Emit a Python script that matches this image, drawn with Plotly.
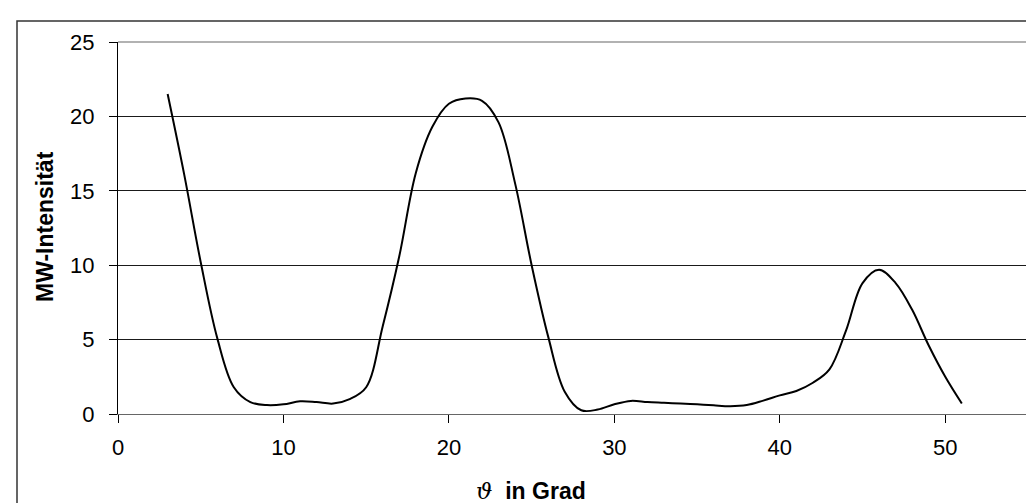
import plotly.graph_objects as go

# Data
theta_deg = list(range(3, 52))
mw_intensity = [
    21.5, 16.1, 10.2, 5.1, 1.8, 0.8, 0.6, 0.65, 0.85, 0.8,   # 3..12
    0.7, 1.0, 1.8, 5.9, 10.6, 16.2, 19.3, 20.85, 21.2, 21.05,  # 13..22
    19.6, 15.5, 10.0, 5.2, 1.5, 0.25, 0.3, 0.65, 0.88, 0.8,   # 23..32
    0.75, 0.7, 0.65, 0.58, 0.52, 0.6, 0.9, 1.25, 1.55, 2.1,   # 33..42
    3.0, 5.6, 8.8, 9.7, 8.8, 7.0, 4.6, 2.5, 0.7               # 43..51
]
x_ticks = [0, 10, 20, 30, 40, 50]
y_ticks = [0, 5, 10, 15, 20, 25]

W, H = 1034, 503
L, R, T, B = 110, 14, 34, 97
pw, ph = W - L - R, H - T - B

def px_x(px):
    return (px - L) / pw

def px_y(py):
    return (H - B - py) / ph

fig = go.Figure()
fig.add_trace(go.Scatter(
    x=theta_deg, y=mw_intensity, mode="lines",
    line=dict(color="black", width=2, shape="spline", smoothing=1.0),
    showlegend=False, hoverinfo="skip",
))

tickfont = dict(family="Liberation Sans, Arial, sans-serif", size=22, color="black")

fig.update_layout(
    width=W, height=H,
    margin=dict(l=L, r=R, t=T, b=B),
    paper_bgcolor="white", plot_bgcolor="white",
    xaxis=dict(
        range=[0, 55], tickvals=x_ticks, ticktext=[str(v) for v in x_ticks],
        showgrid=False, zeroline=False,
        showline=True, linecolor="#666666", linewidth=1,
        ticks="outside", ticklen=8, tickcolor="black", tickwidth=1,
        tickfont=tickfont, ticklabelstandoff=6,
    ),
    yaxis=dict(
        range=[0, 25], tickvals=y_ticks, ticktext=[str(v) for v in y_ticks],
        showgrid=True, gridcolor="#1a1a1a", gridwidth=1, zeroline=False,
        showline=True, linecolor="black", linewidth=1,
        ticks="outside", ticklen=8, tickcolor="black", tickwidth=1,
        tickfont=tickfont, ticklabelstandoff=10,
    ),
    shapes=[
        # plot area border (top and right, gray)
        dict(type="line", xref="paper", yref="paper", x0=0, x1=1, y0=1, y1=1,
             line=dict(color="#999999", width=1.5), layer="above"),
        dict(type="line", xref="paper", yref="paper", x0=1, x1=1, y0=0, y1=1,
             line=dict(color="#999999", width=1.5), layer="above"),
        # outer chart frame (cropped at right and bottom)
        dict(type="rect", xref="paper", yref="paper",
             x0=px_x(9), x1=px_x(W + 10), y0=px_y(H + 10), y1=px_y(13),
             line=dict(color="#333333", width=1.5), fillcolor="rgba(0,0,0,0)"),
    ],
    annotations=[
        dict(text="<b>MW-Intensität</b>", textangle=-90,
             xref="paper", yref="paper", x=px_x(37), y=px_y(219),
             xanchor="center", yanchor="middle", showarrow=False,
             font=dict(family="Liberation Sans, Arial, sans-serif", size=23, color="black")),
        dict(text="<span style='font-family:DejaVu Serif;font-style:italic;font-weight:normal'>ϑ</span>  <b>in Grad</b>",
             xref="paper", yref="paper", x=px_x(523), y=px_y(483),
             xanchor="center", yanchor="middle", showarrow=False,
             font=dict(family="Liberation Sans, Arial, sans-serif", size=23, color="black")),
    ],
)

fig.write_html("out.html")
